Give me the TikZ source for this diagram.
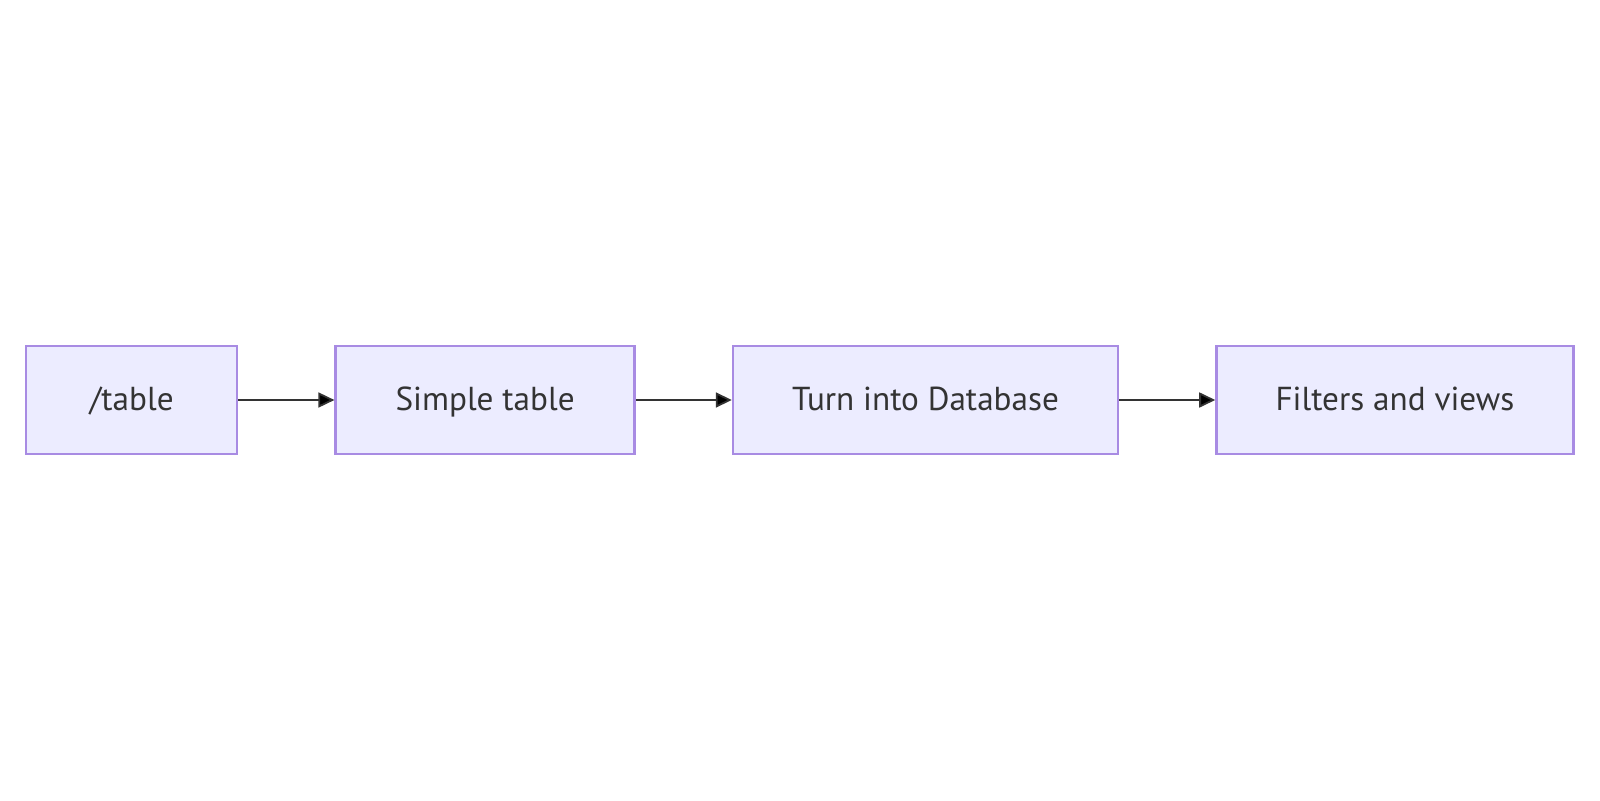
\documentclass[tikz,border=0pt]{standalone}
\usepackage{fontspec}
\setmainfont{PT Sans}
\usetikzlibrary{positioning}
\usetikzlibrary{arrows.meta}
\definecolor{boxfill}{HTML}{ECECFF}
\definecolor{boxline}{HTML}{A88BE3}
\definecolor{linkgray}{HTML}{333333}

\begin{document}
\begin{tikzpicture}[node distance=48pt,>={Triangle[length=8pt,width=7.5pt]},
   stage/.style={draw=boxline,fill=boxfill,line width=1.2pt,minimum height=54pt,
                 inner sep=0pt,text=linkgray,text height=1.2em,text depth=0.2em,
                 font=\fontsize{16.6}{20}\selectfont},
   link/.style={->,draw=linkgray,line width=0.9pt}]
   \useasboundingbox (0,0) rectangle (800pt,400pt);
   \node[stage,minimum width=105.5pt,anchor=west] (slash)  at (12.5pt,200pt) {/table};
   \node[stage,minimum width=149.5pt]             (simple) [right=of slash]  {Simple table};
   \node[stage,minimum width=192.5pt]             (dbase)  [right=of simple] {Turn into Database};
   \node[stage,minimum width=178.5pt]             (views)  [right=of dbase]  {Filters and views};
   \path[link] (slash)  edge (simple)
               (simple) edge (dbase)
               (dbase)  edge (views);
\end{tikzpicture}
\end{document}
